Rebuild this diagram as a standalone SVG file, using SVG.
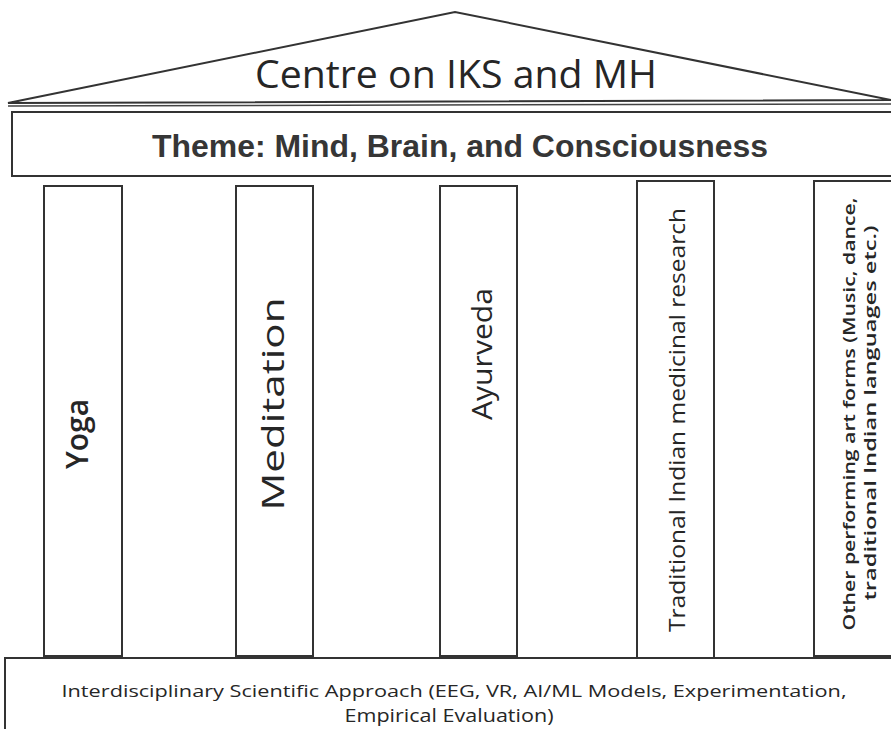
<svg xmlns="http://www.w3.org/2000/svg" width="891" height="729" viewBox="0 0 891 729">
<style>
.ln{fill:#fff;stroke:#333;stroke-width:2}
.t{font-family:"Open Sans","Liberation Sans",sans-serif;fill:#262626}
.a{font-family:"Liberation Sans",Arial,sans-serif;font-weight:bold;fill:#363636}
</style>
<rect width="891" height="729" fill="#fff"/>
<g id="roof">
<polygon class="ln" points="8,103 455,12 891,100" stroke-width="2.5"/>
<line x1="8" y1="106" x2="891" y2="104" stroke="#444" stroke-width="1.5"/>
<text class="t" x="456" y="88" font-size="39" font-weight="500" text-anchor="middle" textLength="402" lengthAdjust="spacingAndGlyphs">Centre on IKS and MH</text>
</g>
<g id="theme">
<rect class="ln" x="12" y="112" width="882" height="64"/>
<text class="a" x="460" y="157" font-size="32" text-anchor="middle" textLength="616" lengthAdjust="spacingAndGlyphs">Theme: Mind, Brain, and Consciousness</text>
</g>
<g id="yoga">
<rect class="ln" x="44" y="186" width="78" height="470"/>
<text class="t" transform="translate(88,434) rotate(-90)" font-size="30" font-weight="600" text-anchor="middle">Yoga</text>
</g>
<g id="meditation">
<rect class="ln" x="236" y="186" width="77" height="470"/>
<text class="t" transform="translate(284,404) rotate(-90)" font-size="31" text-anchor="middle" textLength="213" lengthAdjust="spacingAndGlyphs">Meditation</text>
</g>
<g id="ayurveda">
<rect class="ln" x="440" y="186" width="77" height="470"/>
<text class="t" transform="translate(492,354) rotate(-90)" font-size="28" text-anchor="middle" textLength="132" lengthAdjust="spacingAndGlyphs">Ayurveda</text>
</g>
<g id="traditional">
<rect class="ln" x="637" y="181" width="77" height="477"/>
<text class="t" transform="translate(685,420) rotate(-90)" font-size="22" text-anchor="middle" textLength="424" lengthAdjust="spacingAndGlyphs">Traditional Indian medicinal research</text>
</g>
<g id="other">
<rect class="ln" x="814" y="181" width="80" height="475"/>
<text class="t" transform="translate(855,414) rotate(-90)" font-size="16" font-weight="600" text-anchor="middle" textLength="433" lengthAdjust="spacingAndGlyphs">Other performing  art forms (Music, dance,</text>
<text class="t" transform="translate(876,413) rotate(-90)" font-size="16" font-weight="600" text-anchor="middle" textLength="375" lengthAdjust="spacingAndGlyphs">traditional Indian languages etc.)</text>
</g>
<g id="base">
<rect class="ln" x="5" y="658" width="889" height="80"/>
<text class="t" x="454" y="697" font-size="17" font-weight="500" text-anchor="middle" textLength="785" lengthAdjust="spacingAndGlyphs">Interdisciplinary Scientific Approach (EEG, VR, AI/ML Models, Experimentation,</text>
<text class="t" x="449" y="722" font-size="18" font-weight="500" text-anchor="middle" textLength="209" lengthAdjust="spacingAndGlyphs">Empirical Evaluation)</text>
</g>
<g id="connectors"></g>
</svg>
